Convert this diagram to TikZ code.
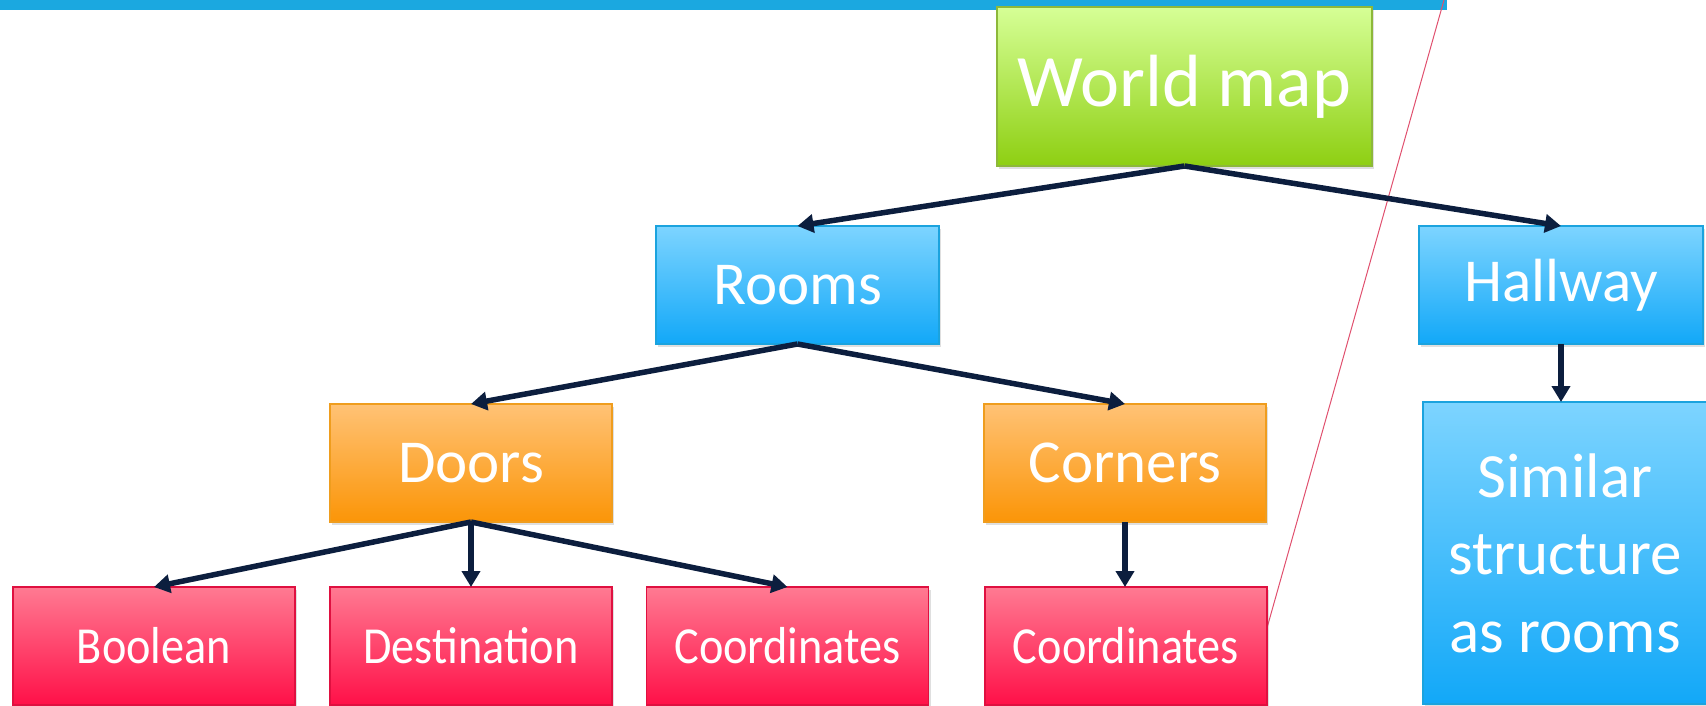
\documentclass[tikz,border=0pt]{standalone}
\usepackage{fontspec}
\setmainfont{Carlito}
\newfontfamily\condfont[FakeStretch=0.89]{Carlito}
\usetikzlibrary{arrows.meta,shadows}
\definecolor{barblue}{HTML}{1BA8E0}
\definecolor{arrowc}{HTML}{0C1E3E}
\definecolor{pinkline}{HTML}{E0506E}
\definecolor{gTop}{HTML}{D6FF96}
\definecolor{gBot}{HTML}{8ECF12}
\definecolor{gBor}{HTML}{8DB83A}
\definecolor{bTop}{HTML}{7DD4FF}
\definecolor{bBot}{HTML}{12A8F8}
\definecolor{bBor}{HTML}{1BA3DE}
\definecolor{oTop}{HTML}{FFC275}
\definecolor{oBot}{HTML}{FB9507}
\definecolor{oBor}{HTML}{EF9D1E}
\definecolor{rTop}{HTML}{FF7A92}
\definecolor{rBot}{HTML}{FF1048}
\definecolor{rBor}{HTML}{DF1040}
\tikzset{
  box/.style={rectangle, inner sep=0pt, outer sep=0pt, line width=1.5pt,
    text=white, align=center,
    drop shadow={opacity=0.25, shadow xshift=2pt, shadow yshift=-3pt}},
  greenbox/.style={box, draw=gBor, top color=gTop, bottom color=gBot},
  bluebox/.style={box, draw=bBor, top color=bTop, bottom color=bBot},
  orangebox/.style={box, draw=oBor, top color=oTop, bottom color=oBot},
  redbox/.style={box, draw=rBor, top color=rTop, bottom color=rBot},
  midbox/.style={minimum width=283pt, minimum height=118pt, font=\fontsize{61}{74}\selectfont},
  lowbox/.style={minimum width=282pt, minimum height=118pt, font=\condfont\fontsize{52}{62}\selectfont},
  conn/.style={draw=arrowc, line width=5.5pt, -{Triangle[length=16pt,width=18pt]}}
}
\begin{document}
\begin{tikzpicture}[x=1pt,y=-1pt]
\useasboundingbox (0,0) rectangle (1706,706);
\clip (0,0) rectangle (1706,706);
\fill[barblue] (0,0) rectangle (1447,10);
\coordinate (pa) at (1444,0);
\coordinate (pb) at (1245,706);
\draw[pinkline, line width=1pt] (pa) -- (pb);

\node[greenbox, minimum width=375pt, minimum height=159pt, font=\fontsize{74}{88}\selectfont] (world) at (1184.5,86.5) {World map};
\node[bluebox, midbox] (rooms) at (797.5,285) {Rooms};
\node[bluebox, midbox, minimum width=284pt] (hall) at (1561,285) {Hallway};
\node[bluebox, minimum width=284pt, minimum height=302pt, font=\fontsize{63}{77.5}\selectfont] (similar) at (1565,553) {Similar\\structure\\as rooms};
\node[orangebox, midbox, minimum width=282pt] (doors) at (471,463) {Doors};
\node[orangebox, midbox, minimum width=282pt] (corners) at (1125,463) {Corners};
\node[redbox, lowbox] (bool) at (154,646) {Boolean};
\node[redbox, lowbox] (dest) at (471,646) {Destination};
\node[redbox, lowbox] (coord) at (787.5,646) {Coordinates};
\node[redbox, lowbox] (coordb) at (1126,646) {Coordinates};

\draw[conn] (world.south) -- (rooms.north);
\draw[conn] (world.south) -- (hall.north);
\draw[conn] (rooms.south) -- (doors.north);
\draw[conn] (rooms.south) -- (corners.north);
\draw[conn] (doors.south) -- (bool.north);
\draw[conn] (doors.south) -- (dest.north);
\draw[conn] (doors.south) -- (coord.north);
\draw[conn] (corners.south) -- (corners.south |- coordb.north);
\draw[conn] (hall.south) -- (hall.south |- similar.north);
\end{tikzpicture}
\end{document}
